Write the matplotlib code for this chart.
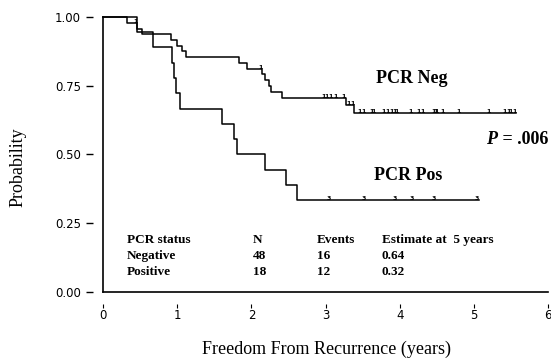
import matplotlib.pyplot as plt
import numpy as np

# Kaplan-Meier steps
neg_t = [0, 0.32, 0.46, 0.52, 0.91, 1.00, 1.06, 1.12, 1.83, 1.94,
         2.14, 2.19, 2.24, 2.27, 2.41, 3.27, 3.39]
neg_s = [1.0, 0.979, 0.958, 0.938, 0.917, 0.896, 0.875, 0.854, 0.833, 0.812,
         0.791, 0.770, 0.749, 0.727, 0.706, 0.680, 0.652]
neg_end = 5.57
neg_cens = [0.44, 2.12, 2.97, 3.01, 3.06, 3.13, 3.24, 3.31, 3.36, 3.46, 3.51,
            3.62, 3.64, 3.78, 3.84, 3.89, 3.93, 3.96, 4.14, 4.25, 4.31, 4.45,
            4.48, 4.50, 4.58, 4.79, 5.20, 5.41, 5.46, 5.50, 5.55]

pos_t = [0, 0.46, 0.68, 0.93, 0.95, 0.99, 1.04, 1.60, 1.76, 1.81, 2.19, 2.46, 2.61]
pos_s = [1.0, 0.944, 0.889, 0.833, 0.778, 0.722, 0.667, 0.611, 0.556, 0.5,
         0.444, 0.389, 0.333]
pos_end = 5.07
pos_cens = [3.04, 3.51, 3.93, 4.16, 4.46, 5.04]

table_rows = [["PCR status", "N", "Events", "Estimate at  5 years"],
              ["Negative", "48", "16", "0.64"],
              ["Positive", "18", "12", "0.32"]]
table_x = [0.32, 2.02, 2.88, 3.76]
table_y = [0.189, 0.131, 0.073]

xticks = [0, 1, 2, 3, 4, 5, 6]
yticks = [0.0, 0.25, 0.5, 0.75, 1.0]

serif = 'Liberation Serif'
plt.rcParams['font.family'] = 'DejaVu Sans'

fig = plt.figure(figsize=(5.51, 3.6), dpi=100)
ax = fig.add_axes([0.187, 0.189, 0.8077, 0.7639])


def km(t, s, end, cens, mark):
    tt = np.append(t, end)
    ss = np.append(s, s[-1])
    ax.step(tt, ss, where='post', color='black', lw=1.1, clip_on=False)
    for c in cens:
        lvl = s[np.searchsorted(t, c, side='right') - 1]
        ax.text(c, lvl, mark, ha='center', va='baseline', fontsize=4.5,
                fontweight='bold', color='black')


km(neg_t, neg_s, neg_end, neg_cens, '1')
km(pos_t, pos_s, pos_end, pos_cens, '3')

ax.set_xlim(0, 6)
ax.set_ylim(0, 1)

# frame drawn as two lines; the real spines are pushed out to carry the ticks
for side in ['top', 'right', 'left', 'bottom']:
    ax.spines[side].set_visible(False)
ax.spines['left'].set_position(('outward', 7.2))
ax.spines['bottom'].set_position(('outward', 8.6))
ax.axvline(0, 0, 1, color='black', lw=1.2, clip_on=False)
ax.axhline(0, 0, 1, color='black', lw=1.2, clip_on=False)

ax.set_xticks(xticks)
ax.set_xticklabels([str(v) for v in xticks])
ax.set_yticks(yticks)
ax.set_yticklabels(['%.2f' % v for v in yticks])
ax.tick_params(axis='y', direction='out', length=4.8, width=1.0, pad=4.0,
               labelsize=8.5)
ax.tick_params(axis='x', direction='out', length=2.9, width=0.8, pad=0.8,
               labelsize=8.5)

fig.text(0.033, 0.536, 'Probability', rotation=90, ha='center', va='center',
         family=serif, fontsize=13)
fig.text(0.592, 0.03, 'Freedom From Recurrence (years)', ha='center',
         va='center', family=serif, fontsize=13)

ax.text(4.16, 0.778, 'PCR Neg', ha='center', va='center', family=serif,
        fontsize=13, fontweight='bold')
ax.text(4.12, 0.425, 'PCR Pos', ha='center', va='center', family=serif,
        fontsize=13, fontweight='bold')
p = ax.text(5.17, 0.553, 'P', ha='left', va='center', family=serif,
            fontsize=13, fontweight='bold', style='italic')
ax.annotate(' = .006', xy=(1, 0), xycoords=p, ha='left', va='bottom',
            family=serif, fontsize=13, fontweight='bold')

for r, row in enumerate(table_rows):
    for c, cell in enumerate(row):
        ax.text(table_x[c], table_y[r], cell, ha='left', va='center',
                family=serif, fontsize=9.5, fontweight='bold')

fig.savefig('out.png', dpi=100)
